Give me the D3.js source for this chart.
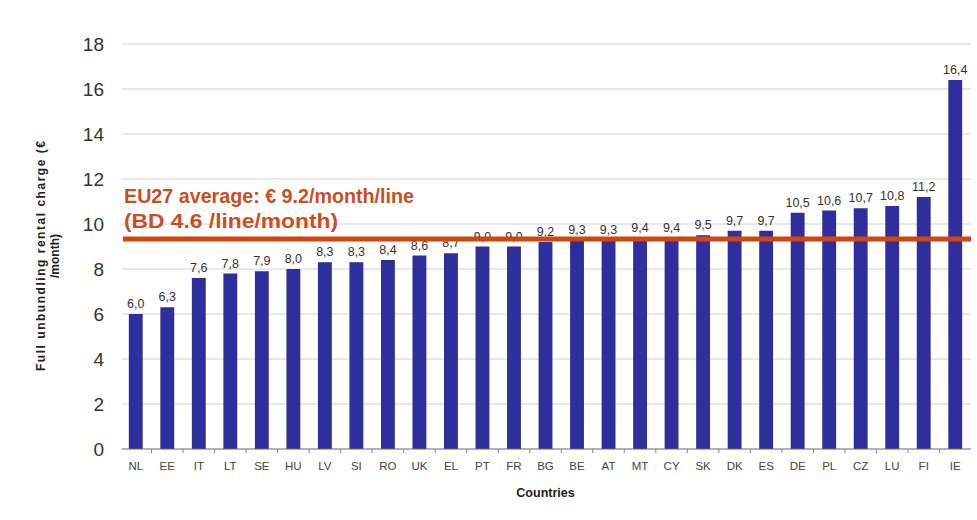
<!DOCTYPE html>
<html>
<head>
<meta charset="utf-8">
<script src="https://cdn.jsdelivr.net/npm/d3@7"></script>
<style>
  body { margin: 0; background: #fff; font-family: Arial, "Liberation Sans", sans-serif; }
  .grid line { stroke: #d4d4d4; }
</style>
</head>
<body>
<div id="chart"></div>
<script>
var countries = ['NL','EE','IT','LT','SE','HU','LV','SI','RO','UK','EL','PT','FR','BG','BE','AT','MT','CY','SK','DK','ES','DE','PL','CZ','LU','FI','IE'];
var charges = [6.0,6.3,7.6,7.8,7.9,8.0,8.3,8.3,8.4,8.6,8.7,9.0,9.0,9.2,9.3,9.3,9.4,9.4,9.5,9.7,9.7,10.5,10.6,10.7,10.8,11.2,16.4];
var yTicks = [0,2,4,6,8,10,12,14,16,18];
var euAverage = 9.2;
var avgLines = ['EU27 average: \u20ac 9.2/month/line', '(BD 4.6 /line/month)'];

var width = 977, height = 520;
var margin = {top: 44, right: 6, bottom: 71, left: 120};

var svg = d3.select('#chart').append('svg')
  .attr('width', width)
  .attr('height', height);

var x = d3.scaleBand()
  .domain(countries)
  .range([margin.left, width - margin.right])
  .paddingInner(0.56)
  .paddingOuter(0.28);

var y = d3.scaleLinear()
  .domain([0, 18])
  .range([height - margin.bottom, margin.top]);

//gridlines
svg.append('g')
  .attr('class', 'grid')
  .selectAll('line')
  .data(yTicks.slice(1))
  .enter().append('line')
    .attr('x1', margin.left + 2)
    .attr('x2', width - margin.right)
    .attr('y1', function(d) { return y(d); })
    .attr('y2', function(d) { return y(d); });

//y axis labels
var yAxis = svg.append('g')
  .attr('transform', 'translate(' + (margin.left - 16) + ',0)')
  .call(d3.axisLeft(y).tickValues(yTicks).tickSize(0).tickPadding(0));
yAxis.select('.domain').remove();
yAxis.selectAll('text')
  .attr('font-size', 19)
  .attr('font-family', 'Arial, "Liberation Sans", sans-serif')
  .attr('fill', '#333');

//bars
svg.selectAll('.bar')
  .data(countries)
  .enter().append('rect')
    .attr('class', 'bar')
    .attr('x', function(d) { return x(d); })
    .attr('width', x.bandwidth())
    .attr('y', function(d, i) { return y(charges[i]); })
    .attr('height', function(d, i) { return y(0) - y(charges[i]); })
    .attr('fill', '#2e2e9c');

//x axis
var xAxis = svg.append('g')
  .attr('transform', 'translate(0,' + y(0) + ')')
  .call(d3.axisBottom(x).tickSize(0).tickPadding(13));
xAxis.select('.domain')
  .attr('d', 'M' + (margin.left + 2) + ',0H' + (width - margin.right))
  .attr('stroke', '#666');
xAxis.selectAll('text')
  .attr('font-size', 11.5)
  .attr('font-family', 'Arial, "Liberation Sans", sans-serif')
  .attr('fill', '#444');
//category separator ticks
svg.append('g')
  .selectAll('line')
  .data(countries.slice(1))
  .enter().append('line')
    .attr('x1', function(d) { return x(d) - x.step() * x.paddingInner() / 2; })
    .attr('x2', function(d) { return x(d) - x.step() * x.paddingInner() / 2; })
    .attr('y1', y(0))
    .attr('y2', y(0) + 4)
    .attr('stroke', '#888');

//value labels
svg.selectAll('.value-label')
  .data(countries)
  .enter().append('text')
    .attr('class', 'value-label')
    .attr('x', function(d) { return x(d) + x.bandwidth() / 2; })
    .attr('y', function(d, i) { return y(charges[i]) - 6; })
    .attr('text-anchor', 'middle')
    .attr('font-size', 12.5)
    .attr('fill', '#333')
    .text(function(d, i) { return charges[i].toFixed(1).replace('.', ','); });

//average line
svg.append('line')
  .attr('x1', margin.left + 3)
  .attr('x2', width - margin.right)
  .attr('y1', y(euAverage) - 3)
  .attr('y2', y(euAverage) - 3)
  .attr('stroke', '#d2450f')
  .attr('stroke-width', 5);

svg.selectAll('.avg-label')
  .data(avgLines)
  .enter().append('text')
    .attr('class', 'avg-label')
    .attr('x', margin.left + 4)
    .attr('y', function(d, i) { return 203 + i * 25; })
    .attr('font-size', 20)
    .attr('font-weight', 'bold')
    .attr('fill', '#c94f1f')
    .attr('textLength', function(d, i) { return i === 0 ? 290 : 214; })
    .attr('lengthAdjust', 'spacingAndGlyphs')
    .text(function(d) { return d; });

//axis titles
var yTitle = svg.append('text')
  .attr('transform', 'translate(45,256) rotate(-90)')
  .attr('text-anchor', 'middle')
  .attr('font-size', 12)
  .attr('font-weight', 'bold')
  .attr('fill', '#222');
yTitle.append('tspan').attr('x', 0).attr('dy', 0)
  .attr('textLength', 230).attr('lengthAdjust', 'spacing')
  .text('Full unbundling  rental charge (\u20ac');
yTitle.append('tspan').attr('x', 0).attr('dy', 14).text('/month)');

svg.append('text')
  .attr('x', (margin.left + width - margin.right) / 2)
  .attr('y', 497)
  .attr('text-anchor', 'middle')
  .attr('font-size', 12.5)
  .attr('font-weight', 'bold')
  .attr('fill', '#222')
  .text('Countries');
</script>
</body>
</html>
